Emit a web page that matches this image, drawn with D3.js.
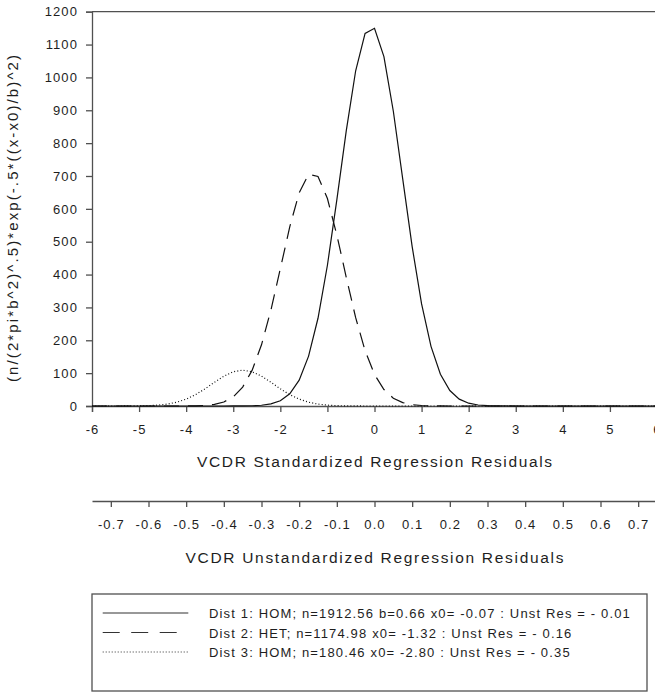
<!DOCTYPE html>
<html>
<head>
<meta charset="utf-8">
<script src="https://cdn.jsdelivr.net/npm/d3@7"></script>
<style>
body { margin: 0; background: #fff; }
#chart { width: 655px; height: 692px; }
text { font-family: "Liberation Sans", Arial, sans-serif; fill: #1e1e1e; }
</style>
</head>
<body>
<div id="chart"></div>
<script>
// x grid of the fitted curves (standardized residuals)
var xValues = [-6, -5.8, -5.6, -5.4, -5.2, -5, -4.8, -4.6, -4.4, -4.2, -4, -3.8, -3.6, -3.4, -3.2,
    -3, -2.8, -2.6, -2.4, -2.2, -2, -1.8, -1.6, -1.4, -1.2, -1, -0.8, -0.6, -0.4, -0.2,
    0, 0.2, 0.4, 0.6, 0.8, 1, 1.2, 1.4, 1.6, 1.8, 2, 2.2, 2.4, 2.6, 2.8,
    3, 3.2, 3.4, 3.6, 3.8, 4, 4.2, 4.4, 4.6, 4.8, 5, 5.2, 5.4, 5.6, 5.8, 6];

// Dist 1: HOM, solid
var dist1 = [0, 0, 0, 0, 0, 0, 0, 0, 0, 0, 0, 0, 0, 0, 0,
    0.1, 0.2, 0.7, 2.3, 6.3, 16.1, 37.2, 78.7, 151.8, 267.0, 428.4, 627.1, 837.4, 1020.2, 1133.9,
    1149.6, 1063.3, 897.1, 690.6, 484.9, 310.6, 181.5, 96.8, 47.1, 20.9, 8.5, 3.1, 1.1, 0.3, 0.1,
    0, 0, 0, 0, 0, 0, 0, 0, 0, 0, 0, 0, 0, 0, 0, 0];

// Dist 2: HET, dashed
var dist2 = [0, 0, 0, 0, 0, 0, 0, 0, 0, 0,
    0.2, 0.6, 1.8, 4.9, 12.3, 27.8, 57.5, 108.3, 186.2, 292.0, 417.7, 545.2, 649.1, 705.0,
    698.6, 631.4, 520.7, 391.7, 268.8, 168.3, 96.1, 50.1, 23.8, 10.3, 4.1, 1.5, 0.5, 0.2,
    0, 0, 0, 0, 0, 0, 0, 0, 0, 0, 0, 0, 0, 0, 0, 0, 0, 0, 0, 0, 0, 0, 0];

// Dist 3: HOM, dotted
var dist3 = [0, 0, 0,
    0.05, 0.15, 0.4, 1.1, 2.6, 5.8, 11.5, 20.9, 34.6, 52.3, 72.2, 90.8, 104.2,
    109.1, 104.2, 90.8, 72.2, 52.3, 34.6, 20.9, 11.5, 5.8, 2.6, 1.1, 0.4, 0.15, 0.05,
    0, 0, 0, 0, 0, 0, 0, 0, 0, 0, 0, 0, 0, 0, 0, 0, 0, 0, 0, 0, 0, 0, 0, 0, 0, 0, 0, 0, 0, 0, 0];

var yTicks = [0, 100, 200, 300, 400, 500, 600, 700, 800, 900, 1000, 1100, 1200];
var stdTicks = [-6, -5, -4, -3, -2, -1, 0, 1, 2, 3, 4, 5, 6];
var unstTicks = [-0.7, -0.6, -0.5, -0.4, -0.3, -0.2, -0.1, 0, 0.1, 0.2, 0.3, 0.4, 0.5, 0.6, 0.7];

var legendLabels = [
    "Dist 1: HOM; n=1912.56 b=0.66 x0= -0.07 : Unst Res = - 0.01",
    "Dist 2: HET; n=1174.98 x0= -1.32 : Unst Res = - 0.16",
    "Dist 3: HOM; n=180.46 x0= -2.80 : Unst Res = - 0.35"
];
var legendDash = ["none", "17,11.5,17,11.5,17,40", "1,2"];
var curveDash = ["none", "15,9", "1,2.2"];

var width = 655, height = 692;
var plotLeft = 92, plotRight = 657, plotTop = 11.7, plotBottom = 406;
var axisColor = "#505050";

var svg = d3.select("#chart")
    .append("svg")
    .attr("width", width)
    .attr("height", height);

var xScale = d3.scaleLinear().domain([-6, 6]).range([plotLeft, plotRight]);
var yScale = d3.scaleLinear().domain([0, 1200]).range([plotBottom, plotTop]);
var unstScale = d3.scaleLinear().domain([-0.75, 0.75]).range([plotLeft, plotRight]);

function hyphen(d) { return d < 0 ? "-" + Math.abs(d) : String(d); }
function hyphen1(d) { return (d < -1e-9 ? "-" : "") + Math.abs(d).toFixed(1); }

function styleAxis(g) {
    g.selectAll("path, line").attr("stroke", axisColor).attr("stroke-width", 1.3);
    g.selectAll("text")
        .attr("fill", "#1e1e1e")
        .style("font-family", "'Liberation Sans', Arial, sans-serif")
        .style("font-size", "13px")
        .style("letter-spacing", "1.1px");
}

// top frame line
svg.append("line")
    .attr("x1", plotLeft).attr("x2", plotRight)
    .attr("y1", plotTop).attr("y2", plotTop)
    .attr("stroke", axisColor).attr("stroke-width", 1.3);

var yAxis = svg.append("g")
    .attr("transform", `translate(${plotLeft},0)`)
    .call(d3.axisLeft(yScale).tickValues(yTicks).tickSize(6).tickPadding(8).tickFormat(hyphen))
    .call(styleAxis);

var xAxis = svg.append("g")
    .attr("transform", `translate(0,${plotBottom})`)
    .call(d3.axisBottom(xScale).tickValues(stdTicks).tickSize(6).tickPadding(12.5).tickFormat(hyphen))
    .call(styleAxis);

var unstAxis = svg.append("g")
    .attr("transform", "translate(0,501)")
    .call(d3.axisBottom(unstScale).tickValues(unstTicks).tickSize(6).tickSizeOuter(0).tickPadding(12.5).tickFormat(hyphen1))
    .call(styleAxis);

// curves
var line = d3.line()
    .x(function(d, i) { return xScale(xValues[i]); })
    .y(function(d) { return yScale(d); });

[dist3, dist2, dist1].forEach(function(series, k) {
    var idx = 2 - k;
    svg.append("path")
        .attr("d", line(series))
        .attr("fill", "none")
        .attr("stroke", "#111")
        .attr("stroke-width", 1.2)
        .attr("stroke-dasharray", curveDash[idx]);
});

// axis titles
svg.append("text")
    .attr("x", 374.5).attr("y", 467.3)
    .attr("text-anchor", "middle")
    .attr("textLength", 355).attr("lengthAdjust", "spacing")
    .style("font-size", "15.5px")
    .text("VCDR Standardized Regression Residuals");

svg.append("text")
    .attr("x", 374.5).attr("y", 562.7)
    .attr("text-anchor", "middle")
    .attr("textLength", 378).attr("lengthAdjust", "spacing")
    .style("font-size", "15.5px")
    .text("VCDR Unstandardized Regression Residuals");

svg.append("text")
    .attr("transform", "translate(18,218.5) rotate(-90)")
    .attr("text-anchor", "middle")
    .attr("textLength", 327).attr("lengthAdjust", "spacing")
    .style("font-size", "15px")
    .text("(n/(2*pi*b^2)^.5)*exp(-.5*((x-x0)/b)^2)");

// legend
svg.append("rect")
    .attr("x", 92).attr("y", 594)
    .attr("width", 555).attr("height", 97)
    .attr("fill", "none")
    .attr("stroke", axisColor).attr("stroke-width", 1.3);

var legendRows = svg.selectAll(".legendRow")
    .data(legendLabels)
    .enter()
    .append("g")
    .attr("class", "legendRow")
    .attr("transform", function(d, i) { return `translate(0,${613 + i * 19.5})`; });

legendRows.append("line")
    .attr("x1", 102.7).attr("x2", 188.3)
    .attr("y1", 0).attr("y2", 0)
    .attr("stroke", "#333")
    .attr("stroke-width", 1.2)
    .attr("stroke-dasharray", function(d, i) { return legendDash[i]; });

legendRows.append("text")
    .attr("x", 209).attr("y", 5.3)
    .style("font-size", "13px")
    .style("letter-spacing", "1.15px")
    .text(function(d) { return d; });
</script>
</body>
</html>
